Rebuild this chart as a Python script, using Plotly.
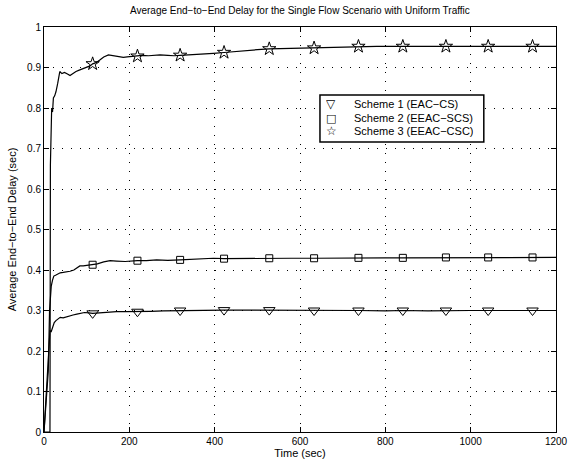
import plotly.graph_objects as go

# ---- data ----
star_t = [0, 14, 15, 16, 18, 20, 22, 25, 28, 32, 37, 42, 48, 55, 61, 68, 75, 84, 92, 100,
          108, 114, 122, 130, 140, 151, 160, 170, 178, 186, 195, 205, 219, 230, 245, 260,
          272, 290, 305, 319, 340, 358, 380, 397, 422, 450, 475, 500, 528, 560, 600, 633,
          670, 700, 737, 780, 841, 900, 942, 1000, 1041, 1100, 1145, 1200]
star_v = [0, 0, 0.66, 0.74, 0.80, 0.79, 0.825, 0.83, 0.84, 0.86, 0.89, 0.885, 0.888, 0.884,
          0.88, 0.885, 0.89, 0.894, 0.897, 0.90, 0.904, 0.909, 0.912, 0.918, 0.926, 0.931,
          0.929, 0.927, 0.925, 0.925, 0.926, 0.927, 0.928, 0.930, 0.929, 0.930, 0.931, 0.930,
          0.929, 0.930, 0.931, 0.932, 0.933, 0.935, 0.937, 0.940, 0.942, 0.944, 0.946, 0.947,
          0.947, 0.948, 0.950, 0.951, 0.952, 0.952, 0.952, 0.952, 0.952, 0.953, 0.952, 0.952,
          0.952, 0.952]

square_t = [0, 10, 13, 15, 17, 20, 23, 27, 32, 38, 45, 52, 61, 70, 78, 84, 92, 100, 114, 125,
            140, 155, 170, 190, 219, 240, 264, 290, 319, 360, 397, 422, 480, 528, 580, 633,
            700, 737, 800, 841, 900, 942, 1000, 1041, 1100, 1145, 1200]
square_v = [0, 0.15, 0.30, 0.33, 0.36, 0.375, 0.385, 0.387, 0.39, 0.393, 0.394, 0.395, 0.397,
            0.40, 0.405, 0.41, 0.41, 0.411, 0.413, 0.415, 0.42, 0.423, 0.422, 0.421, 0.423,
            0.423, 0.425, 0.424, 0.425, 0.427, 0.429, 0.428, 0.429, 0.429, 0.429, 0.429, 0.43,
            0.43, 0.43, 0.43, 0.43, 0.431, 0.43, 0.431, 0.431, 0.431, 0.431]

tri_t = [0, 5, 10, 12, 14, 17, 20, 24, 28, 33, 38, 45, 53, 60, 68, 77, 85, 95, 105, 114, 130,
         150, 170, 190, 219, 250, 280, 319, 360, 400, 422, 480, 528, 580, 633, 700, 737, 800,
         841, 900, 942, 1000, 1041, 1100, 1145, 1200]
tri_v = [0, 0.10, 0.19, 0.24, 0.25, 0.248, 0.26, 0.27, 0.275, 0.28, 0.283, 0.282, 0.285,
         0.287, 0.289, 0.291, 0.293, 0.295, 0.294, 0.293, 0.294, 0.296, 0.297, 0.297, 0.297,
         0.298, 0.299, 0.30, 0.30, 0.301, 0.301, 0.301, 0.301, 0.30, 0.30, 0.30, 0.30, 0.299,
         0.30, 0.299, 0.30, 0.30, 0.30, 0.30, 0.30, 0.30]

marker_t = [114, 219, 319, 422, 528, 633, 737, 841, 942, 1041, 1145]
tri_marks = [0.293, 0.297, 0.300, 0.301, 0.301, 0.300, 0.300, 0.300, 0.300, 0.300, 0.300]
square_marks = [0.413, 0.423, 0.425, 0.428, 0.429, 0.429, 0.430, 0.430, 0.431, 0.431, 0.431]
star_marks = [0.909, 0.928, 0.930, 0.937, 0.946, 0.948, 0.952, 0.952, 0.952, 0.952, 0.952]

names = ["Scheme 1 (EAC\u2212CS)", "Scheme 2 (EEAC\u2212SCS)", "Scheme 3 (EEAC\u2212CSC)"]
legend_glyphs = ["\u25bd", "\u25a1", "\u2606"]
x_ticks = [0, 200, 400, 600, 800, 1000, 1200]
y_ticks = [0, 0.1, 0.2, 0.3, 0.4, 0.5, 0.6, 0.7, 0.8, 0.9, 1]

FONT = "Liberation Sans, Arial, Helvetica, sans-serif"

fig = go.Figure()
series = [
    (tri_t, tri_v, tri_marks, "triangle-down-open", 10, names[0]),
    (square_t, square_v, square_marks, "square-open", 7, names[1]),
    (star_t, star_v, star_marks, "star-open", 10, names[2]),
]
for t, v, mk, sym, sz, nm in series:
    fig.add_trace(go.Scatter(x=t, y=v, mode="lines", line=dict(color="black", width=1.2),
                             showlegend=False, hoverinfo="skip"))
for t, v, mk, sym, sz, nm in series:
    fig.add_trace(go.Scatter(x=marker_t, y=mk, mode="markers", name=nm, showlegend=False,
                             marker=dict(symbol=sym, size=sz, color="black",
                                         line=dict(color="black", width=1))))

axis_common = dict(
    showline=True, linecolor="black", linewidth=1, mirror="ticks",
    ticks="inside", ticklen=5, tickcolor="black", tickwidth=1,
    showgrid=True, gridcolor="black", gridwidth=1, griddash="1px,8px",
    zeroline=False, tickfont=dict(family=FONT, size=10, color="black"),
    automargin=False,
)
fig.update_xaxes(range=[0, 1200], tickvals=x_ticks, ticktext=[str(v) for v in x_ticks],
                 title=dict(text="Time (sec)", font=dict(family=FONT, size=11, color="black"), standoff=0),
                 **axis_common)
fig.update_yaxes(range=[0, 1], tickvals=y_ticks, ticktext=["0"] + [f"{v:g}" for v in y_ticks[1:]],
                 title=dict(text="Average End\u2212to\u2212End Delay (sec)",
                            font=dict(family=FONT, size=11, color="black"), standoff=8),
                 **axis_common)

# hand-built compact legend box (Matlab style), opaque over the grid
fig.add_shape(type="rect", xref="paper", yref="paper", x0=0.539, x1=0.859, y0=0.716, y1=0.832,
              line=dict(color="black", width=1.5), fillcolor="white", layer="above")
row_y = [0.810, 0.7765, 0.743]
glyph_sizes = [12, 11, 12]
for g, gs, nm, yy in zip(legend_glyphs, glyph_sizes, names, row_y):
    fig.add_annotation(xref="paper", yref="paper", x=0.561, y=yy, text=g, showarrow=False,
                       xanchor="center", yanchor="middle", borderpad=0, height=12,
                       valign="middle",
                       font=dict(family="DejaVu Sans", size=gs, color="black"))
    fig.add_annotation(xref="paper", yref="paper", x=0.603, y=yy, text=nm, showarrow=False,
                       xanchor="left", yanchor="middle", borderpad=0, height=12,
                       valign="middle",
                       font=dict(family=FONT, size=11, color="black"))

fig.update_layout(
    width=568, height=463,
    margin=dict(l=44, r=12, t=27, b=31),
    paper_bgcolor="white", plot_bgcolor="white",
    showlegend=False,
    title=dict(text="Average End\u2212to\u2212End Delay for the Single Flow Scenario with Uniform Traffic",
               font=dict(family=FONT, size=10, color="black"),
               x=0.528, xanchor="center", y=0.978, yanchor="middle"),
    font=dict(family=FONT, color="black"),
)

fig.write_html("out.html", config={"displayModeBar": False},
               post_script="document.body.style.margin='0';")
